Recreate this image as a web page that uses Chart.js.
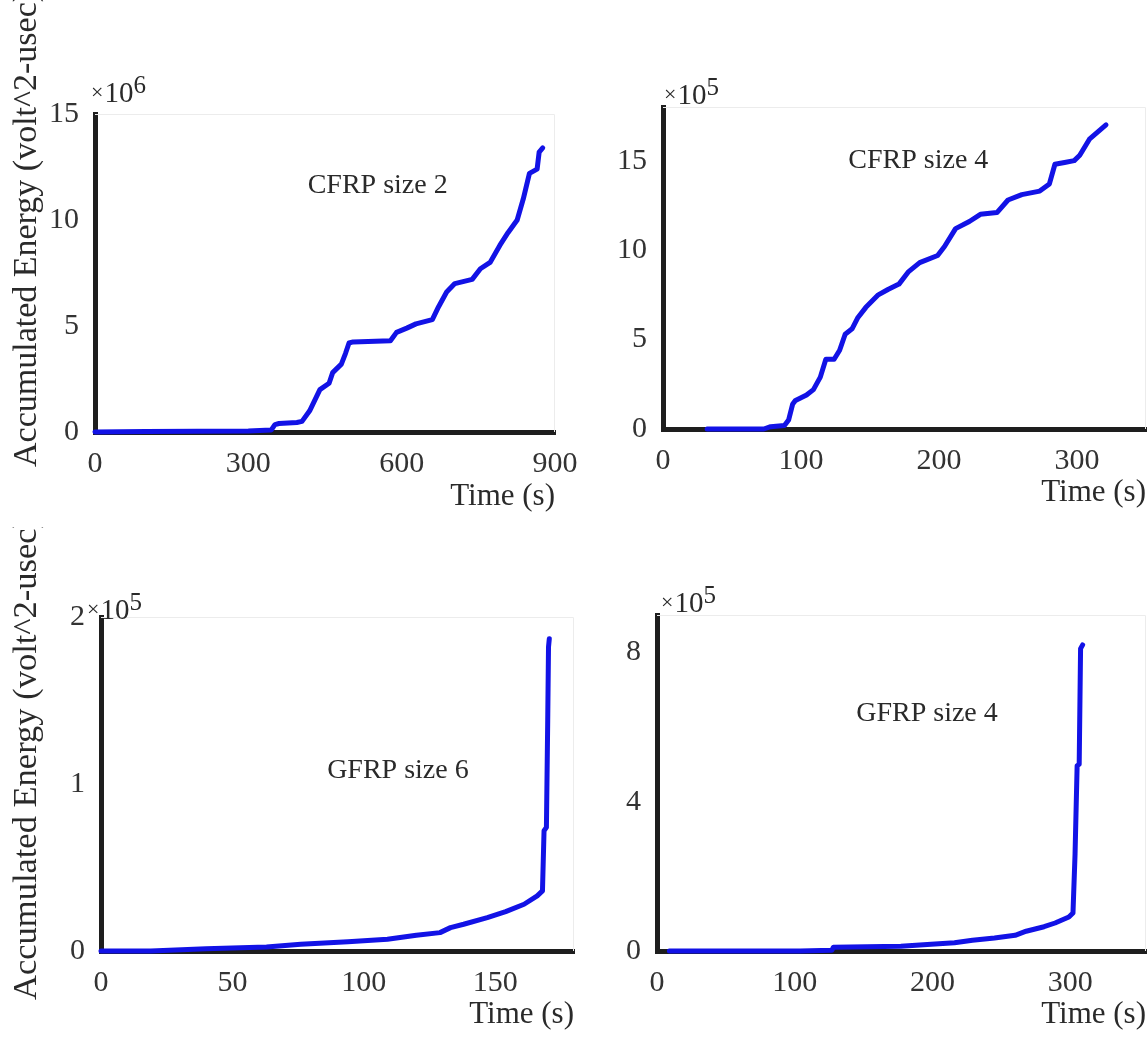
<!DOCTYPE html>
<html>
<head>
<meta charset="utf-8">
<script src="https://cdn.jsdelivr.net/npm/chart.js@4.4.1/dist/chart.umd.min.js"></script>
<style>
  html, body { margin: 0; padding: 0; background: #ffffff; width: 1148px; height: 1039px; overflow: hidden; position: relative; }
  canvas { position: absolute; }
</style>
</head>
<body>
<canvas id="c1"></canvas>
<canvas id="c2"></canvas>
<canvas id="c3"></canvas>
<canvas id="c4"></canvas>
<script>
// ---------------- DATA ----------------
// CFRP size 2 : energy in units of 10^6 volt^2-usec
const cfrp2Time   = [0, 100, 200, 300, 345, 352, 360, 395, 405, 420, 440, 458, 465, 482, 490, 497, 505, 578, 590, 610, 628, 660, 672, 688, 704, 738, 754, 773, 792, 808, 826, 838, 850, 865, 869, 876];
const cfrp2Energy = [0, 0.02, 0.03, 0.05, 0.1, 0.35, 0.4, 0.45, 0.5, 1.0, 2.0, 2.3, 2.8, 3.2, 3.7, 4.2, 4.25, 4.3, 4.7, 4.9, 5.1, 5.3, 5.9, 6.6, 7.0, 7.2, 7.7, 8.0, 8.8, 9.4, 10.0, 11.0, 12.2, 12.4, 13.2, 13.4];

// CFRP size 4 : energy in units of 10^5 volt^2-usec
const cfrp4Time   = [32, 73, 78, 88, 91, 94, 96, 104, 109, 114, 118, 124, 128, 132, 137, 141, 147, 156, 163, 171, 178, 186, 199, 204, 212, 222, 230, 242, 250, 260, 273, 280, 284, 291, 298, 302, 309, 321];
const cfrp4Energy = [0, 0, 0.13, 0.19, 0.5, 1.4, 1.6, 1.9, 2.2, 2.9, 3.9, 3.9, 4.4, 5.3, 5.6, 6.2, 6.8, 7.5, 7.8, 8.1, 8.8, 9.3, 9.7, 10.2, 11.2, 11.6, 12.0, 12.1, 12.8, 13.1, 13.3, 13.7, 14.8, 14.9, 15.0, 15.3, 16.2, 17.0];

// GFRP size 6 : energy in units of 10^5 volt^2-usec
const gfrp6Time   = [0, 19, 40, 63, 76, 94, 109, 120, 129, 133, 138, 147, 154, 161, 166, 168, 168.6, 169.5, 170, 170.3, 170.6];
const gfrp6Energy = [0, 0, 0.014, 0.024, 0.04, 0.056, 0.07, 0.094, 0.11, 0.14, 0.16, 0.2, 0.236, 0.28, 0.33, 0.36, 0.72, 0.74, 1.38, 1.82, 1.87];

// GFRP size 4 : energy in units of 10^5 volt^2-usec
const gfrp4Time   = [9, 104, 127, 128, 177, 199, 216, 229, 245, 260, 268, 281, 289, 299, 302, 303.5, 305, 306.5, 307.5, 309];
const gfrp4Energy = [0, 0, 0.02, 0.1, 0.13, 0.18, 0.22, 0.29, 0.35, 0.42, 0.53, 0.65, 0.75, 0.91, 1.02, 2.6, 4.96, 5.0, 8.1, 8.2];

// tick labels
const cfrp2TimeTicks = [0, 300, 600, 900];
const cfrp2EnergyTicks = [0, 5, 10, 15];
const cfrp4TimeTicks = [0, 100, 200, 300];
const cfrp4EnergyTicks = [0, 5, 10, 15];
const gfrp6TimeTicks = [0, 50, 100, 150];
const gfrp6EnergyTicks = [0, 1, 2];
const gfrp4TimeTicks = [0, 100, 200, 300];
const gfrp4EnergyTicks = [0, 4, 8];

const panelTitles = ['CFRP size 2', 'CFRP size 4', 'GFRP size 6', 'GFRP size 4'];
const exponents = ['6', '5', '5', '5'];
const yAxisTitle = 'Accumulated Energy (volt^2-usec)';
const xAxisTitle = 'Time (s)';

// ---------------- STYLE ----------------
const SERIF = '"Liberation Serif", "Times New Roman", serif';
const BLUE = '#1212e6';
const AXIS = '#1e1e1e';
const TEXT = '#2a2a2a';

const annotPlugin = {
  id: 'annot',
  beforeDatasetsDraw(chart) {
    const a = chart.chartArea, ctx = chart.ctx;
    ctx.save();
    ctx.strokeStyle = '#ececec';
    ctx.lineWidth = 1;
    ctx.beginPath();
    ctx.moveTo(a.left, a.top + 0.5); ctx.lineTo(a.right - 0.5, a.top + 0.5); ctx.lineTo(a.right - 0.5, a.bottom);
    ctx.stroke();
    ctx.restore();
  },
  afterDatasetsDraw(chart, args, o) {
    const ctx = chart.ctx, a = chart.chartArea;
    const xs = chart.scales.x, ys = chart.scales.y;
    ctx.save();
    ctx.fillStyle = TEXT;
    // in-plot panel label
    ctx.font = o.labelSize + 'px ' + SERIF;
    ctx.textAlign = 'center';
    ctx.textBaseline = 'middle';
    ctx.fillText(o.label, xs.getPixelForValue(o.labelAt[0]), ys.getPixelForValue(o.labelAt[1]));
    // exponent multiplier
    ctx.textAlign = 'left';
    ctx.textBaseline = 'alphabetic';
    let ex = a.left + o.expOffset[0];
    const ey = a.top + o.expOffset[1];
    ctx.font = '22px ' + SERIF;
    ctx.fillText('×', ex, ey - 3);
    ex += ctx.measureText('×').width + 1;
    ctx.font = '29px ' + SERIF;
    ctx.fillText('10', ex, ey);
    ex += ctx.measureText('10').width;
    ctx.font = '25px ' + SERIF;
    ctx.fillText(o.exponent, ex, ey - 9);
    // rotated y title
    if (o.yTitle) {
      ctx.translate(o.yTitle.x, o.yTitle.y);
      ctx.rotate(-Math.PI / 2);
      ctx.font = o.yTitle.size + 'px ' + SERIF;
      ctx.textAlign = 'left';
      ctx.textBaseline = 'middle';
      ctx.fillText(yAxisTitle, 0, 0);
    }
    ctx.restore();
  }
};

function makePanel(id, p) {
  const cv = document.getElementById(id);
  const [cl, ct, cw, ch] = p.rect;
  cv.width = cw; cv.height = ch;
  cv.style.left = cl + 'px'; cv.style.top = ct + 'px';
  cv.style.width = cw + 'px'; cv.style.height = ch + 'px';
  const [L, T, R, B] = p.area;
  const W = 55, H = 85;
  const padLeft = L - cl - W;
  const padTop = T - ct;
  const padRight = (cl + cw) - R;
  const padBottom = (ct + ch) - B - H;
  const titleSize = 31;
  const titlePadBottom = (B + H) - titleSize * 1.2 / 2 - p.titleY;
  const points = p.time.map((t, i) => ({ x: t, y: p.energy[i] }));
  new Chart(cv, {
    type: 'scatter',
    data: { datasets: [{ data: points, showLine: true, borderColor: BLUE, backgroundColor: BLUE, borderWidth: 5, pointRadius: 0, tension: 0, clip: 10, borderJoinStyle: 'round', borderCapStyle: 'round' }] },
    options: {
      responsive: false, animation: false, devicePixelRatio: 1,
      layout: { padding: { left: padLeft, top: padTop, right: padRight, bottom: padBottom } },
      plugins: {
        legend: { display: false }, tooltip: { enabled: false },
        annot: { label: p.label, labelAt: p.labelAt, labelSize: 28, exponent: p.exponent, expOffset: p.expOffset, yTitle: p.yTitle }
      },
      scales: {
        x: {
          type: 'linear', min: 0, max: p.xMax,
          grid: { display: false },
          border: { display: true, color: AXIS, width: 5 },
          ticks: { font: { family: SERIF, size: 30 }, color: '#333', padding: 6, autoSkip: false, maxRotation: 0 },
          afterBuildTicks: s => { s.ticks = p.xTicks.map(v => ({ value: v })); },
          afterFit: s => { s.height = H; s.paddingLeft = 0; s.paddingRight = 0; s.paddingTop = 0; s.paddingBottom = 0; },
          title: { display: true, text: xAxisTitle, align: 'end', color: TEXT, font: { family: SERIF, size: titleSize }, padding: { top: 0, bottom: titlePadBottom } }
        },
        y: {
          type: 'linear', min: 0, max: p.yMax,
          grid: { display: false },
          border: { display: true, color: AXIS, width: 5 },
          ticks: { font: { family: SERIF, size: 30 }, color: '#333', padding: 8, autoSkip: false },
          afterBuildTicks: s => { s.ticks = p.yTicks.map(v => ({ value: v })); },
          afterFit: s => { s.width = W; s.paddingLeft = 0; s.paddingRight = 0; s.paddingTop = 0; s.paddingBottom = 0; }
        }
      }
    },
    plugins: [annotPlugin]
  });
}

makePanel('c1', {
  rect: [0, 0, 600, 525], area: [95, 114, 555, 432], xMax: 900, yMax: 15,
  xTicks: cfrp2TimeTicks, yTicks: cfrp2EnergyTicks, time: cfrp2Time, energy: cfrp2Energy,
  label: panelTitles[0], labelAt: [553, 11.6], exponent: exponents[0], expOffset: [-4, -12], titleY: 497,
  yTitle: { x: 27, y: 467, size: 34 }
});
makePanel('c2', {
  rect: [600, 0, 548, 525], area: [663, 107, 1146, 429], xMax: 350, yMax: 18,
  xTicks: cfrp4TimeTicks, yTicks: cfrp4EnergyTicks, time: cfrp4Time, energy: cfrp4Energy,
  label: panelTitles[1], labelAt: [185, 15.0], exponent: exponents[1], expOffset: [1, -3], titleY: 493
});
makePanel('c3', {
  rect: [0, 527, 610, 512], area: [101, 617, 574, 951], xMax: 180, yMax: 2,
  xTicks: gfrp6TimeTicks, yTicks: gfrp6EnergyTicks, time: gfrp6Time, energy: gfrp6Energy,
  label: panelTitles[2], labelAt: [113, 1.08], exponent: exponents[2], expOffset: [-14, 2], titleY: 1015,
  yTitle: { x: 27, y: 1000 - 527, size: 34.5 }
});
makePanel('c4', {
  rect: [610, 527, 538, 512], area: [657, 615, 1146, 951], xMax: 355, yMax: 9,
  xTicks: gfrp4TimeTicks, yTicks: gfrp4EnergyTicks, time: gfrp4Time, energy: gfrp4Energy,
  label: panelTitles[3], labelAt: [196, 6.36], exponent: exponents[3], expOffset: [4, -3], titleY: 1015
});
</script>
</body>
</html>
